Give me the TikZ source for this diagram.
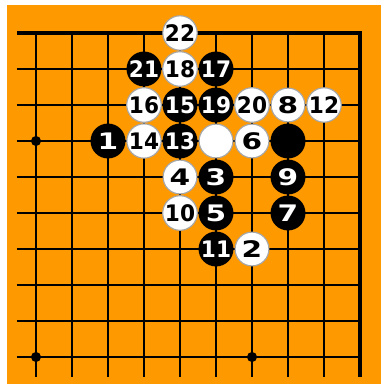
\documentclass[tikz,border=0pt]{standalone}
\usepackage{fontspec}
\setsansfont{DejaVu Sans}
\usepackage{graphicx}
\definecolor{board}{RGB}{255,153,0}
\begin{document}
\begin{tikzpicture}[
    y=-1cm,
    grid/.style={line width=1.6pt, black},
    edge/.style={line width=2.8pt, black},
    bstone/.style={circle, fill=black, text=white, minimum size=0.97cm, inner sep=0pt,
        font=\sffamily\bfseries\fontsize{18}{18}\selectfont},
    wstone/.style={circle, draw=gray!70, line width=0.9pt, fill=white, text=black, minimum size=0.94cm, inner sep=0pt,
        font=\sffamily\bfseries\fontsize{18}{18}\selectfont}
]
    \useasboundingbox (-1,-0.9167) rectangle (9.583,9.75);
    \fill[board] (-0.8056,-0.778) rectangle (9.583,9.75);

    \foreach \r in {1,...,9}
        \draw[grid] (-0.528,\r) -- (9,\r);
    \foreach \c in {0,...,8}
        \draw[grid] (\c,0) -- (\c,9.556);
    \draw[edge, line join=miter] (-0.528,0) -- (9,0) -- (9,9.556);

    \foreach \c/\r in {0/3, 0/9, 6/9}
        \fill (\c,\r) circle (0.14);

    \foreach \c/\r/\n/\s in {2/3/1/1.3, 5/4/3/1.3, 5/5/5/1.3, 7/5/7/1.3, 7/4/9/1.3,
            5/6/11/0.95, 4/3/13/0.95, 4/2/15/0.95, 5/1/17/0.95, 5/2/19/0.95, 3/1/21/0.95}
        \node[bstone] (b\n) at (\c,\r) {\scalebox{\s}[1]{\n}};
    \foreach \c/\r/\n/\s in {6/6/2/1.3, 4/4/4/1.3, 6/3/6/1.3, 7/2/8/1.3,
            4/5/10/0.95, 8/2/12/0.95, 3/3/14/0.95, 3/2/16/0.95, 4/1/18/0.95, 6/2/20/0.95, 4/0/22/0.95}
        \node[wstone] (w\n) at (\c,\r) {\scalebox{\s}[1]{\n}};
    \node[wstone] (wcap) at (5,3) {};
    \node[bstone] (bcap) at (7,3) {};
\end{tikzpicture}
\end{document}
